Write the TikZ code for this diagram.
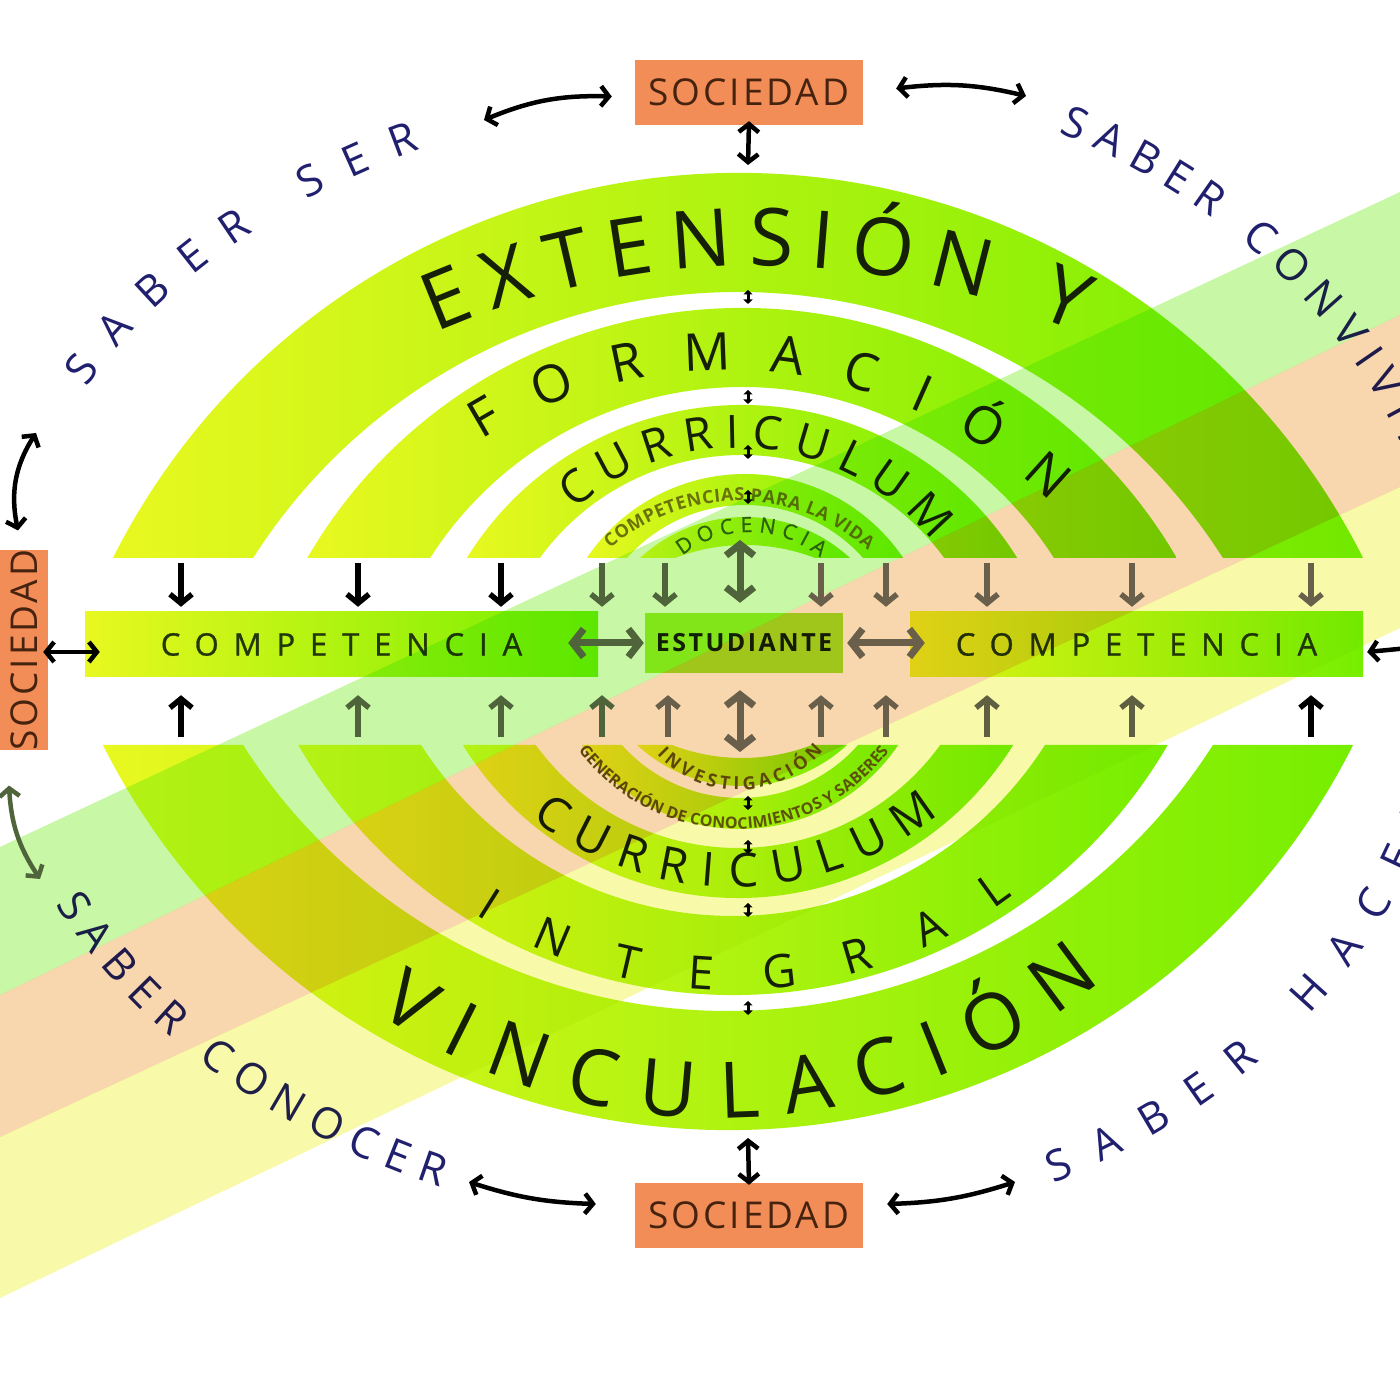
\documentclass[tikz,border=0pt]{standalone}
\usepackage{fontspec}
\setmainfont{Open Sans}
\usetikzlibrary{decorations.text,arrows.meta,calc}

\definecolor{yel}{RGB}{232,248,32}
\definecolor{grn}{RGB}{118,238,0}
\definecolor{estc}{RGB}{165,236,40}
\definecolor{soc}{RGB}{243,141,88}
\definecolor{socT}{RGB}{70,35,15}
\definecolor{navy}{RGB}{32,32,110}
\definecolor{txt}{RGB}{22,32,8}
\definecolor{compT}{RGB}{35,55,10}
\definecolor{olv}{RGB}{105,115,10}
\definecolor{olv2}{RGB}{95,85,10}
\definecolor{docc}{RGB}{55,100,20}
\definecolor{ovG}{RGB}{200,248,165}
\definecolor{ovP}{RGB}{248,215,175}
\definecolor{ovY}{RGB}{248,250,170}
\definecolor{arG}{RGB}{80,100,60}
\definecolor{arB}{RGB}{105,95,75}
\definecolor{arO}{RGB}{95,95,65}

\newcommand\fExt{\fontsize{80}{90}\selectfont}
\newcommand\fForm{\fontsize{52}{60}\selectfont}
\newcommand\fCurU{\fontsize{46}{50}\selectfont}
\newcommand\fCurL{\fontsize{47}{50}\selectfont}
\newcommand\fInt{\fontsize{46}{50}\selectfont}
\newcommand\fVin{\fontsize{78}{80}\selectfont}
\newcommand\fSmall{\fontsize{18}{20}\selectfont\bfseries}
\newcommand\fGen{\fontsize{16}{18}\selectfont\bfseries}
\newcommand\fDoc{\fontsize{21}{22}\selectfont\addfontfeature{FakeBold=1}}
\newcommand\fSab{\fontsize{43}{46}\selectfont}

% annular band above a base line: #1 cYo #2 Ro #3 cYi #4 Ri #5 base #6 cx
\newcommand\bandshape[6]{%
  \pgfmathsetmacro\bAo{asin((#5-#1)/#2)}%
  \pgfmathsetmacro\bAi{asin((#5-#3)/#4)}%
  \pgfmathsetmacro\bXo{#2*cos(\bAo)}%
  \pgfmathsetmacro\bXi{#4*cos(\bAi)}%
  \shade[left color=yel, right color=grn]
    ({#6-\bXo},#5) arc[start angle={180-\bAo}, end angle=\bAo, radius=#2]
    -- ({#6+\bXi},#5) arc[start angle=\bAi, end angle={180-\bAi}, radius=#4] -- cycle;
}
\newcommand\arctext[7]{%
  \path[decorate, decoration={text along path, text align={fit to path}, text color=#6, text={|#5|#7}}]
    ($#1+(#3:#2)$) arc[start angle=#3, end angle=#4, radius=#2];}
\newcommand\elltext[8]{%
  \path[decorate, decoration={text along path, text align={fit to path}, text color=#7, text={|#6|#8}}]
    ($#1+({#2*cos(#4)},{#3*sin(#4)})$) arc[start angle=#4, end angle=#5, x radius=#2, y radius=#3];}

\tikzset{
  socbox/.style={fill=soc, text=socT, inner sep=0pt, minimum width=228pt, minimum height=65pt,
    font=\fontsize{37}{40}\selectfont\addfontfeature{LetterSpace=8}},
  compbar/.style={left color=yel, right color=grn, inner sep=0pt, minimum height=65pt, text=compT,
    font=\fontsize{31}{34}\selectfont\addfontfeature{LetterSpace=48,FakeBold=1}},
  estbox/.style={fill=estc, inner sep=0pt, minimum width=198pt, minimum height=60pt, text=txt,
    font=\fontsize{25}{28}\selectfont\bfseries\addfontfeature{LetterSpace=10}},
  dnarrow/.style={line width=5.5pt, -{Straight Barb[length=9pt,width=22pt]}},
  dblbig/.style={line width=7pt, {Straight Barb[length=11pt,width=28pt]}-{Straight Barb[length=11pt,width=28pt]}},
  dblside/.style={line width=4.5pt, {Straight Barb[length=8pt,width=20pt]}-{Straight Barb[length=8pt,width=20pt]}},
  tick2/.style={line width=3pt, {Triangle[length=4.5pt,width=9pt]}-{Triangle[length=4.5pt,width=9pt]}},
}

\begin{document}
\begin{tikzpicture}[x=1pt,y=1pt]
\useasboundingbox (0,0) rectangle (1400,1400);
\clip (0,0) rectangle (1400,1400);
\fill[white] (0,0) rectangle (1400,1400);

% ---------- bands ----------
\bandshape{527}{700}{533}{575}{842}{738}
\bandshape{589}{503}{643}{370}{842}{742}
\bandshape{671}{324}{695}{250}{842}{742}
\bandshape{735}{191}{737}{158}{842}{745}
\bandshape{728}{155}{660}{195}{842}{745}
\begin{scope}[shift={(0,1497)},yscale=-1]
\bandshape{527}{700}{533}{575}{842}{728}
\bandshape{589}{503}{643}{370}{842}{733}
\bandshape{671}{324}{695}{250}{842}{738}
\bandshape{735}{191}{737}{158}{842}{740}
\bandshape{728}{155}{660}{195}{842}{742}
\end{scope}

% ---------- central row ----------
\node[compbar, minimum width=513pt] (compL) at (341.5,755.5) {COMPETENCIA};
\node[estbox] (est) at (744,757) {ESTUDIANTE};
\node[compbar, minimum width=453pt] (compR) at (1136.5,755.5) {COMPETENCIA};

% ---------- society boxes ----------
\node[socbox] (socT) at (749,1307.5) {SOCIEDAD};
\node[socbox] (socB) at (749,184.5) {SOCIEDAD};
\node[socbox, minimum width=190pt, minimum height=48pt, rotate=90] (socL) at (24,750) {SOCIEDAD};

% ---------- arc texts ----------
\arctext{(757,331)}{803}{113.6}{66.5}{\fExt}{txt}{EXTENSIÓN Y}
\arctext{(726,566)}{464}{121.8}{45.7}{\fForm}{txt}{FORMACIÓN}
\arctext{(738,704)}{248}{131.3}{38.5}{\fCurU}{txt}{CURRICULUM}
\arctext{(738,703)}{196}{130.7}{48.5}{\fSmall}{olv}{COMPETENCIAS PARA LA VIDA}
\arctext{(750,759)}{109}{128.4}{50}{\fDoc}{docc}{DOCENCIA}
\arctext{(719,886)}{604}{-124.5}{-50.7}{\fVin}{txt}{VINCULACIÓN}
\arctext{(730,878)}{468}{-123}{-52.9}{\fInt}{txt}{INTEGRAL}
\arctext{(733,840)}{327}{-127.9}{-51}{\fCurL}{txt}{CURRICULUM}
\arctext{(734,764)}{193}{-143.7}{-36.6}{\fGen}{olv2}{GENERACIÓN DE CONOCIMIENTOS Y SABERES}
\arctext{(738,721)}{111}{-137}{-40}{\fSmall}{olv2}{INVESTIGACIÓN}

% ---------- saber texts ----------
\elltext{(745,750)}{747}{556}{151.8}{115.8}{\fSab}{navy}{SABER SER}
\elltext{(745,750)}{703}{578}{63.5}{19.5}{\fSab}{navy}{SABER CONVIVIR}
\elltext{(745,750)}{765}{586}{-154.3}{-113.5}{\fSab}{navy}{SABER CONOCER}
\elltext{(745,750)}{716}{591}{-64.5}{-15}{\fSab}{navy}{SABER HACER}

% ---------- overlay stripes ----------
\begin{scope}[blend mode=multiply]
\fill[ovG] (0,553) -- (1400,1208) -- (1400,1085) -- (0,405) -- cycle;
\fill[ovP] (0,405) -- (1400,1085) -- (1400,913) -- (0,263) -- cycle;
\fill[ovY] (0,263) -- (1400,913) -- (1400,772) -- (0,102) -- cycle;
\end{scope}

% ---------- arrows to the central row ----------
\foreach \x/\c in {181/black,358/black,501/black,602/arG,665/arG,821/arB,886/arB,987/arB,1132/arB,1311/arB}{
  \coordinate (dn\x) at (\x,837);
  \draw[dnarrow, draw=\c, shorten >=5pt] (dn\x) -- (dn\x |- compL.north);
}
\foreach \x/\c in {181/black,358/arG,501/arG,602/arG,668/arB,821/arB,886/arB,987/arO,1132/arO,1311/black}{
  \coordinate (up\x) at (\x,663);
  \draw[dnarrow, draw=\c, shorten >=18pt] (up\x) -- (up\x |- compL.south);
}
\coordinate (doc) at (740,860);
\coordinate (inv) at (740,648);
\draw[dblbig, draw=arG, shorten >=10pt] (doc) -- (doc |- est.north);
\draw[dblbig, draw=arB, shorten >=17pt] (inv) -- (inv |- est.south);
\draw[dblbig, draw=arG] ([xshift=-30pt,yshift=1.5pt]compL.east) -- ([xshift=-1pt]est.west);
\draw[dblbig, draw=arB] ([xshift=4pt]est.east) -- ([xshift=15pt,yshift=1.5pt]compR.west);

% ---------- society arrows ----------
\coordinate (topband) at (748,1235);
\coordinate (botband) at (748,262);
\draw[dblside] ([yshift=4pt]socT.south) -- (topband);
\draw[dblside] (botband) -- ([yshift=-2pt]socB.north);
\coordinate (sserA) at (484,1280);
\coordinate (sconvA) at (1026,1304);
\coordinate (sconA) at (469,218);
\coordinate (shacA) at (1015,218);
\coordinate (sL1) at (36,967);
\coordinate (sL2) at (40,521);
\coordinate (rightout) at (1445,755.5);
\draw[dblside] (sserA) to[bend left=12] ([xshift=-23pt,yshift=-4pt]socT.west);
\draw[dblside] ([xshift=33pt,yshift=4pt]socT.east) to[bend left=10] (sconvA);
\draw[dblside] (sconA) to[bend right=8] ([xshift=-39pt,yshift=11.5pt]socB.west);
\draw[dblside] ([xshift=24pt,yshift=11.5pt]socB.east) to[bend right=8] (shacA);
\draw[dblside] (sL1) to[bend right=22] ($(socL.east)+(-6,19)$);
\draw[dblside, draw=arG] ($(socL.west)+(-15,-35)$) to[bend right=15] (sL2);
\draw[dblside] ($(socL.south)+(-5,-2)$) -- ([xshift=15pt,yshift=-7.5pt]compL.west);
\draw[dblside] ([xshift=4pt,yshift=-7.5pt]compR.east) -- (rightout);

% ---------- small markers on the axis ----------
\foreach \y in {1103,1003,948,903,597,553,490,392}{
  \coordinate (ma\y) at (748,\y+7);
  \coordinate (mb\y) at (748,\y-7);
  \draw[tick2] (ma\y) -- (mb\y);
}
\end{tikzpicture}
\end{document}
